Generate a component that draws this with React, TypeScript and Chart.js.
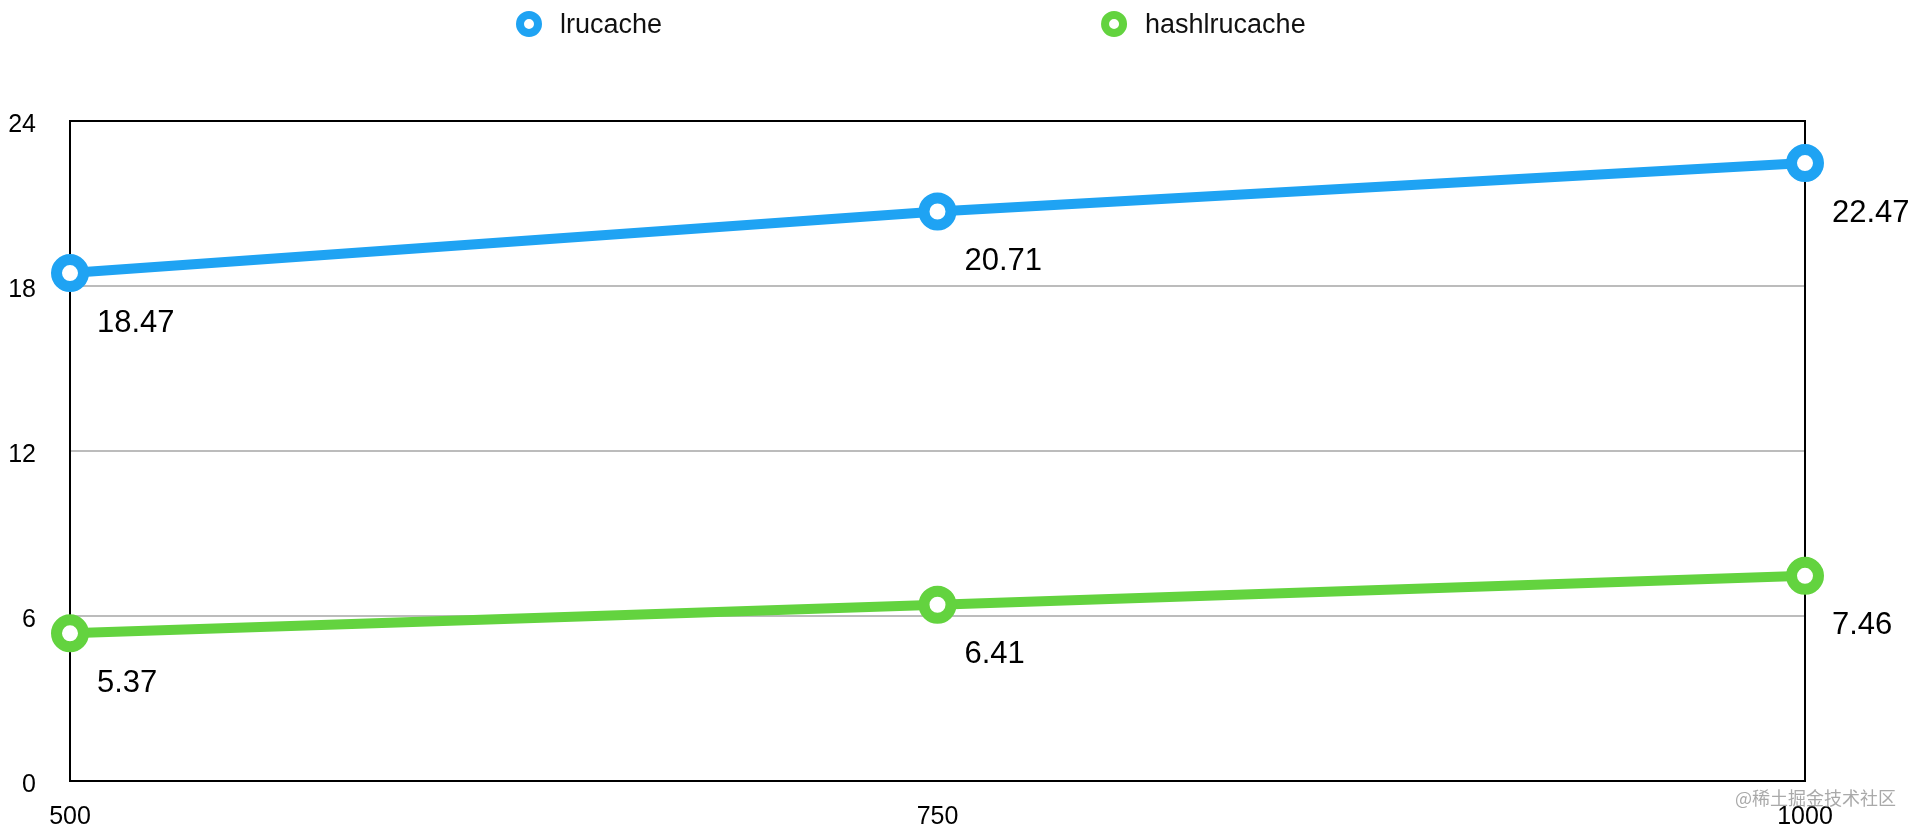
import React, {useEffect, useRef} from 'react'
import {Chart, registerables} from 'chart.js'

Chart.register(...registerables)

// data
const sizes = ['500', '750', '1000']
const lruCache = [18.47, 20.71, 22.47]
const hashLruCache = [5.37, 6.41, 7.46]
const yTicks = [0, 6, 12, 18, 24]
const seriesNames = ['lrucache', 'hashlrucache']
const seriesColors = ['#1fa3f3', '#63d33f']

const FONT = "'Liberation Sans', Arial, Helvetica, sans-serif"

// black box round the plot area
const framePlugin = {
  id: 'frame',
  beforeDatasetsDraw(chart: any) {
    const {ctx, chartArea} = chart
    ctx.save()
    ctx.strokeStyle = '#000'
    ctx.lineWidth = 2
    ctx.strokeRect(chartArea.left, chartArea.top, chartArea.right - chartArea.left, chartArea.bottom - chartArea.top)
    ctx.restore()
  },
}

// value under every point
const valueLabelPlugin = {
  id: 'valueLabels',
  afterDatasetsDraw(chart: any) {
    const {ctx} = chart
    ctx.save()
    ctx.font = `31px ${FONT}`
    ctx.fillStyle = '#000'
    ctx.textAlign = 'left'
    ctx.textBaseline = 'middle'
    chart.data.datasets.forEach((ds: any, i: number) => {
      const meta = chart.getDatasetMeta(i)
      meta.data.forEach((pt: any, j: number) => {
        ctx.fillText(Number(ds.data[j]).toFixed(2), pt.x + 27, pt.y + 50)
      })
    })
    ctx.restore()
  },
}

// legend spread out like the original
const legendPlugin = {
  id: 'spreadLegend',
  afterDraw(chart: any) {
    const {ctx} = chart
    ctx.save()
    ctx.font = `27px ${FONT}`
    ctx.textBaseline = 'middle'
    ctx.textAlign = 'left'
    let x = 516
    const y = 24
    chart.data.datasets.forEach((ds: any) => {
      ctx.beginPath()
      ctx.arc(x + 13, y, 9, 0, Math.PI * 2)
      ctx.fillStyle = '#fff'
      ctx.fill()
      ctx.lineWidth = 8
      ctx.strokeStyle = ds.borderColor
      ctx.stroke()
      ctx.fillStyle = '#111'
      ctx.fillText(ds.label, x + 44, y + 2)
      x += 44 + ctx.measureText(ds.label).width + 439
    })
    ctx.restore()
  },
}

const LineChart: React.FC = () => {
  const chartRef = useRef<HTMLCanvasElement | null>(null)

  useEffect(() => {
    if (!chartRef.current) {
      return
    }

    const chart = new Chart(chartRef.current, {
      type: 'line',
      data: {
        labels: sizes,
        datasets: [lruCache, hashLruCache].map((values, i) => ({
          label: seriesNames[i],
          data: values,
          borderColor: seriesColors[i],
          backgroundColor: seriesColors[i],
          borderWidth: 10,
          pointRadius: 13.5,
          pointBorderWidth: 11,
          pointBackgroundColor: '#fff',
          pointBorderColor: seriesColors[i],
          tension: 0,
          clip: false as any,
        })),
      },
      options: {
        animation: false,
        responsive: true,
        maintainAspectRatio: false,
        layout: {padding: {top: 121, right: 113, bottom: 0, left: 0}},
        plugins: {
          legend: {display: false},
          tooltip: {enabled: false},
        },
        scales: {
          x: {
            offset: false,
            grid: {display: false},
            border: {color: '#000', width: 2},
            ticks: {
              color: '#000',
              font: {family: FONT, size: 25},
              padding: 13,
              maxRotation: 0,
            },
            afterFit: (scale: any) => {
              scale.height = 46
            },
          },
          y: {
            min: yTicks[0],
            max: yTicks[yTicks.length - 1],
            grid: {color: '#bcbcbc', lineWidth: 2, drawTicks: false},
            border: {color: '#000', width: 2},
            ticks: {
              color: '#000',
              font: {family: FONT, size: 25},
              padding: 34,
              labelOffset: 4,
            },
            afterBuildTicks: (scale: any) => {
              scale.ticks = yTicks.map((v) => ({value: v}))
            },
            afterFit: (scale: any) => {
              scale.width = 70
            },
          },
        },
      },
      plugins: [framePlugin, valueLabelPlugin, legendPlugin],
    })

    return () => {
      chart.destroy()
    }
  }, [])

  return (
    <div style={{position: 'fixed', left: 0, top: 0, width: 1918, height: 830, background: '#fff'}}>
      <canvas ref={chartRef}></canvas>
      <div
        style={{
          position: 'absolute',
          left: 1735,
          top: 785,
          fontFamily: "'Noto Sans CJK SC', sans-serif",
          fontSize: 18,
          lineHeight: '24px',
          color: 'rgba(140,140,140,0.75)',
          whiteSpace: 'nowrap',
        }}
      >
        @稀土掘金技术社区
      </div>
    </div>
  )
}

export default function App() {
  return <LineChart />
}
